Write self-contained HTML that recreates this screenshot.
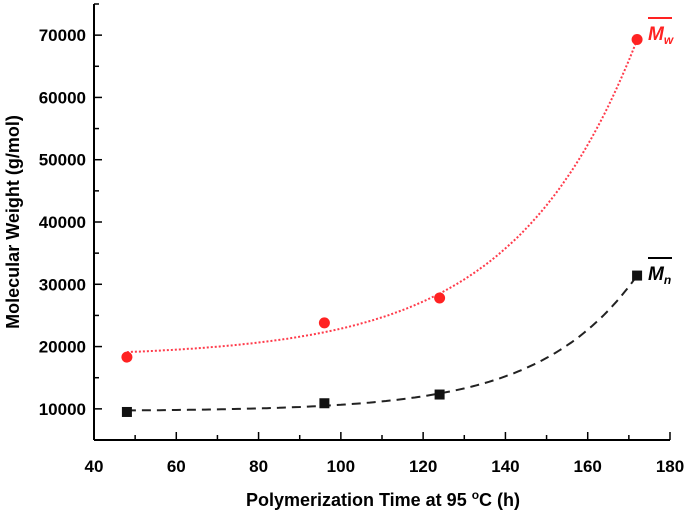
<!DOCTYPE html>
<html><head><meta charset="utf-8"><style>
body{margin:0;background:#fff}
svg text{font-family:"Liberation Sans",Arial,sans-serif;font-weight:bold}
</style></head><body>
<svg id="c" width="688" height="516"></svg>
<script>
const times=[48,96,124,172];
const mwValues=[18300,23800,27800,69300];
const mnValues=[9500,10900,12300,31400];
const xTicks=[40,60,80,100,120,140,160,180];
const yTicks=[10000,20000,30000,40000,50000,60000,70000];
const NS="http://www.w3.org/2000/svg";
const svg=document.getElementById('c');
const X0=94,X1=670,Y0=440,Y1=4;
const xs=v=>X0+(v-40)/(180-40)*(X1-X0);
const ys=v=>Y0-(v-5000)/(75000-5000)*(Y0-Y1);
function mk(t,a,p){const e=document.createElementNS(NS,t);for(const k in a)e.setAttribute(k,a[k]);(p||svg).appendChild(e);return e;}
const ax=mk('g',{});


mk('line',{x1:X0,y1:Y1,x2:X0,y2:Y0,stroke:'#000','stroke-width':2},ax);
mk('line',{x1:X0,y1:Y0,x2:X1,y2:Y0,stroke:'#000','stroke-width':2},ax);
for(let v=40;v<=180;v+=10){const x=xs(v);mk('line',{x1:x,y1:Y0,x2:x,y2:Y0-(v%20==0?8:5),stroke:'#000','stroke-width':1.5},ax);}
xTicks.forEach(v=>{const t=mk('text',{x:xs(v),y:472,'text-anchor':'middle','font-size':17},ax);t.textContent=v;

});
for(let v=5000;v<=75000;v+=5000){const y=ys(v);mk('line',{x1:X0,y1:y,x2:X0+(v%10000==0?8:5),y2:y,stroke:'#000','stroke-width':1.5},ax);}
yTicks.forEach(v=>{const t=mk('text',{x:86,y:ys(v)+6,'text-anchor':'end','font-size':17},ax);t.textContent=v;

});
const xt=mk('text',{x:383,y:506,'text-anchor':'middle','font-size':18});
xt.innerHTML='Polymerization Time at 95 <tspan dy="-7" font-size="12">o</tspan><tspan dy="7">C (h)</tspan>';


const yt=mk('text',{x:19,y:222,'text-anchor':'middle','font-size':18,transform:'rotate(-90 19 222)'});
yt.textContent='Molecular Weight (g/mol)';


function fit(xv,yv){let best=null;for(let c=0.001;c<0.2;c+=0.0005){const f=xv.map(x=>Math.exp(c*x));const n=xv.length;let sf=0,sy=0,sff=0,sfy=0;for(let i=0;i<n;i++){sf+=f[i];sy+=yv[i];sff+=f[i]*f[i];sfy+=f[i]*yv[i];}
const b=(n*sfy-sf*sy)/(n*sff-sf*sf),a=(sy-b*sf)/n;let e=0;for(let i=0;i<n;i++){const r=a+b*f[i]-yv[i];e+=r*r;}if(!best||e<best.e)best={a,b,c,e};}return best;}
function curve(yv,col,dash,name){const p=fit(times,yv);let d='';for(let x=times[0];x<=times[times.length-1]+0.01;x+=1){d+=(d?'L':'M')+xs(x).toFixed(1)+','+ys(p.a+p.b*Math.exp(p.c*x)).toFixed(1);}
const el=mk('path',{d,fill:'none',stroke:col,'stroke-width':2,'stroke-dasharray':dash});

}
curve(mwValues,'#ff3b4b','2 2','mw-fit-line');
curve(mnValues,'#222','9 6','mn-fit-line');
mwValues.forEach((v,i)=>{const c=mk('circle',{cx:xs(times[i]),cy:ys(v),r:5.5,fill:'#f22'});

});
mnValues.forEach((v,i)=>{const r=mk('rect',{x:xs(times[i])-5,y:ys(v)-5,width:10,height:10,fill:'#111'});

});
const lw=mk('g',{});


mk('line',{x1:648,y1:18,x2:672,y2:18,stroke:'#f22','stroke-width':2},lw);
const t1=mk('text',{x:648,y:40,fill:'#f22','font-size':19,'font-style':'italic'},lw);t1.innerHTML='M<tspan font-size="12" dy="4">w</tspan>';
const ln=mk('g',{});


mk('line',{x1:648,y1:258,x2:672,y2:258,stroke:'#000','stroke-width':2},ln);
const t2=mk('text',{x:648,y:280,fill:'#000','font-size':19,'font-style':'italic'},ln);t2.innerHTML='M<tspan font-size="12" dy="4">n</tspan>';
</script>
</body></html>
